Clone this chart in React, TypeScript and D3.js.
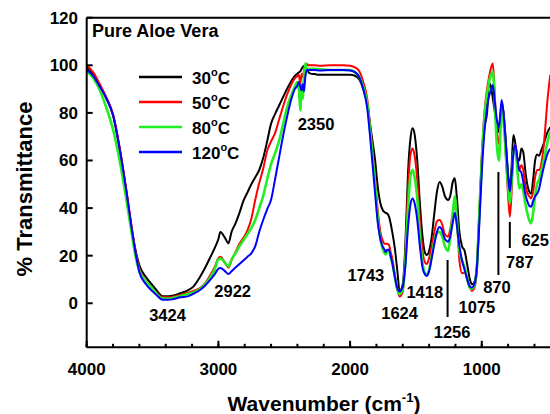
import React from "react";
import * as d3 from "d3";

// FTIR spectra of pure aloe vera dried at four temperatures
const wavenumbers = [
  4000, 3950, 3900, 3850, 3800, 3750, 3700, 3660, 3630, 3600, 3550, 3500, 3470, 3424,
  3380, 3340, 3290, 3240, 3190, 3140, 3100, 3060, 3030, 3000, 2985, 2950, 2924, 2900, 2870,
  2840, 2810, 2780, 2750, 2720, 2690, 2660, 2630, 2600, 2570, 2540, 2510, 2480, 2450, 2420,
  2400, 2390, 2378, 2368, 2360, 2350, 2340, 2328, 2315, 2300,
  2270, 2230, 2150, 2050, 2000, 1960, 1930, 1900, 1870, 1840, 1810, 1790, 1770, 1750, 1743,
  1730, 1720, 1705, 1690, 1680, 1660, 1640, 1624,
  1600, 1580, 1560, 1540, 1525, 1510, 1490, 1470, 1450, 1430, 1418,
  1400, 1380, 1360, 1340, 1320, 1300, 1280, 1256, 1240, 1220, 1205, 1190, 1170, 1150, 1130,
  1110, 1090, 1075,
  1060, 1040, 1020, 1000, 980, 960, 945, 930, 916, 900, 885, 870, 860, 849, 835, 815, 800,
  787, 775, 760, 745, 730, 715, 700, 685, 670, 655, 640, 625, 610, 595, 580, 565, 550, 530,
  500, 480,
];

const t30C = [
  99, 96, 91.5, 86, 79, 65, 47.5, 32, 22.5, 16, 11, 7.5, 5.5, 3,
  3, 3.3, 4.2, 5.2, 7, 11, 15, 19.5, 23, 27, 30, 27.5, 25.2, 30, 33.6,
  38, 43, 46.5, 50, 53, 56, 61, 68, 75.5, 79.5, 83, 86.5, 90, 93, 95.5,
  96.5, 97, 97.5, 98.5, 99.3, 99.8, 98, 98.5, 97, 96.5,
  96.3, 96, 96, 96, 96, 95.5, 94, 90, 84, 72, 60, 49, 42, 39, 38.5,
  38, 37.8, 36.5, 33, 30, 23, 13, 5,
  8, 25, 55, 70, 73.5, 71, 60, 42, 28, 21, 20.3,
  22, 28, 38, 47, 51, 49, 45, 43.4, 45, 51, 52.5, 45, 30, 24, 22,
  16, 10, 8,
  8.5, 14, 36, 60, 74, 80, 92.5, 91, 86, 80, 74, 72, 78, 84, 80, 66, 54,
  48, 56, 70.7, 67, 61, 60, 65, 63.5, 56, 50, 47, 46, 52, 60, 62.5, 62, 64, 67,
  72, 74,
];

const t50C = [
  100, 97, 92, 86.5, 79.5, 65.5, 48, 32.5, 22, 14.5, 9, 6, 4.5, 2.5,
  2.5, 2.8, 3.5, 4.2, 5.2, 6.4, 8.5, 12, 15, 19, 19.6, 17, 15, 18, 21.5,
  25, 27.5, 30.5, 35.5, 43.5, 50.5, 56.5, 64, 68, 71.5, 77, 82.5, 87.5, 91.5, 94.5,
  95.5, 96, 92.5, 96.5, 95, 98, 100, 100.5, 100, 100,
  100, 99.8, 100, 100, 99.8, 99, 97.5, 93, 86, 70, 52, 39, 30, 26, 25.2,
  25, 25, 24.5, 21, 19, 12, 5.5, 2.8,
  5, 20, 48, 63, 65, 62, 52, 35, 22, 17, 16.5,
  19, 24, 30, 34.5, 35, 33, 29, 28, 31, 38, 42, 36, 18, 12.6, 13,
  10, 6.5, 5.2,
  6, 12, 36, 62, 80, 90, 95, 99, 100.8, 86, 72, 67, 74, 84, 80, 60, 45,
  36.4, 45, 63, 66.5, 60, 56, 58, 56, 50, 46.5, 45, 44, 47, 53, 56, 56, 58, 66,
  86, 96,
];

const t80C = [
  97.5, 94.5, 89.5, 82, 73, 60, 44, 30, 20, 13.5, 9, 6, 4, 2,
  2, 2.3, 3, 3.8, 4.5, 6, 8, 11, 14, 18.5, 18.8, 17, 15.5, 18.5, 21,
  24, 26.5, 29, 31.6, 35, 40, 45, 52, 58.5, 63, 68, 75, 82, 87, 91,
  93, 91, 81, 92, 86, 96, 100.8, 98, 98.5, 98.5,
  98.5, 98.3, 98, 98, 98, 97, 95, 91, 84, 68, 50, 36, 27, 22.5, 21.5,
  20.5, 21.5, 22, 19, 17, 11, 5.5, 3.8,
  6, 18, 40, 54, 56, 53, 44, 28, 17, 12.5, 12,
  14, 20, 26, 29.5, 30, 28, 24, 22, 27, 38, 45, 36, 22, 18, 15,
  10, 6.5, 6,
  7, 13, 36, 60, 78, 88, 93, 96, 97.3, 82, 66, 60, 70, 82.6, 77, 60, 49,
  42, 50, 63, 65, 56, 48.3, 50, 47, 42, 38, 35, 33.6, 38, 45, 50, 52, 55, 60,
  68, 72,
];

const t120C = [
  98, 95.5, 91, 86, 79, 65, 47.5, 32, 21.5, 13, 8, 5, 3.5, 1.5,
  1.5, 1.8, 2.5, 2.8, 4, 5.6, 7.5, 10, 12, 14.5, 14.8, 13.5, 12.3, 13.5, 15,
  16.5, 18, 19.5, 21, 24, 30, 35, 39.5, 43.5, 52, 61, 70, 78, 85, 90,
  91.5, 93, 91, 89.5, 92, 89, 95, 98, 98, 98,
  98, 97.8, 98, 98, 97.8, 97, 95, 90, 82, 65, 46, 34, 27, 23.5, 23,
  21.5, 22.5, 22.5, 19.5, 17, 11, 6, 4.9,
  7, 16, 32, 42, 44, 42, 35, 24, 15, 12, 11.5,
  13.5, 19, 25, 30, 32, 30.5, 27, 25.9, 28, 34, 38, 33, 24, 18, 14,
  10, 7, 6.6,
  7.5, 13, 32, 55, 72, 82, 87, 89.5, 91.7, 84, 77, 74, 79, 85.4, 80, 65, 53,
  47, 53, 63, 66.5, 61, 56, 55, 51, 46, 43, 41, 40.6, 43, 45, 46, 48, 52, 57,
  63, 65,
];

const temperatures = ["30", "50", "80", "120"];
const spectra = [t30C, t50C, t80C, t120C];
const colors = ["#000000", "#ff0000", "#22ee22", "#0000ff"];
const widths = [2, 2, 2.6, 2];

const xMajorTicks = [4000, 3000, 2000, 1000];
const xMinorTicks = d3.range(4000, 400, -200);
const yTicks = [0, 20, 40, 60, 80, 100, 120];

// Band assignments and where their labels sit
const peaks = ["3424", "2922", "2350", "1743", "1624", "1418", "1256", "1075", "870", "787", "625"];
const peakLabelLayout: Record<string, { dx: number; y: number; line?: [number, number] }> = {
  "3424": { dx: 5, y: 321 },
  "2922": { dx: 4, y: 297 },
  "2350": { dx: 12, y: 130 },
  "1743": { dx: -18, y: 281 },
  "1624": { dx: 0, y: 319 },
  "1418": { dx: -2, y: 298 },
  "1256": { dx: 4, y: 338, line: [260, 317] },
  "1075": { dx: 5, y: 313 },
  "870": { dx: -2, y: 293, line: [172, 275] },
  "787": { dx: 10, y: 268, line: [222, 248] },
  "625": { dx: 4, y: 246 },
};

const W = 550;
const H = 414;
const FONT = "'Liberation Sans', Arial, Helvetica, sans-serif";

export default function App() {
  const x = d3.scaleLinear().domain([4000, 400]).range([86.7, 560.8]);
  const y = d3.scaleLinear().domain([-18.5, 120]).range([347.3, 17.7]);
  const left = x(4000);
  const bottom = y(-18.5);
  const top = y(120);

  const line = d3
    .line<number>()
    .x((_, i) => x(wavenumbers[i]))
    .y((d) => y(d))
    .curve(d3.curveMonotoneX);

  return (
    <svg
      width={W}
      height={H}
      style={{ position: "absolute", left: 0, top: 0, background: "#fff" }}
      fontFamily={FONT}
      fontWeight="bold"
    >
      <defs>
        <clipPath id="plot">
          <rect x={left} y={top} width={W - left} height={bottom - top} />
        </clipPath>
      </defs>

      {/* spectra */}
      <g clipPath="url(#plot)">
        {spectra.map((s, i) => (
          <path
            key={i}
            d={line(s) ?? ""}
            fill="none"
            stroke={colors[i]}
            strokeWidth={widths[i]}
            strokeLinejoin="round"
          />
        ))}
      </g>

      {/* frame */}
      <line x1={left} x2={W} y1={top} y2={top} stroke="#000" strokeWidth={2} />
      <line x1={left} x2={W} y1={bottom} y2={bottom} stroke="#000" strokeWidth={2} />
      <line x1={left} x2={left} y1={top} y2={bottom} stroke="#000" strokeWidth={2} />

      {/* y axis */}
      {yTicks.map((t) => (
        <g key={t}>
          <line x1={left} x2={left + 6} y1={y(t)} y2={y(t)} stroke="#000" strokeWidth={2} />
          <text x={78} y={y(t) + 6} textAnchor="end" fontSize={17}>
            {t}
          </text>
        </g>
      ))}

      {/* x axis */}
      {xMinorTicks.map((t) => (
        <line key={t} x1={x(t)} x2={x(t)} y1={bottom} y2={bottom - 3.5} stroke="#000" strokeWidth={2} />
      ))}
      {xMajorTicks.map((t) => (
        <g key={t}>
          <line x1={x(t)} x2={x(t)} y1={bottom} y2={bottom - 6.5} stroke="#000" strokeWidth={2} />
          <text x={x(t)} y={375} textAnchor="middle" fontSize={17}>
            {t}
          </text>
        </g>
      ))}

      {/* axis titles */}
      <text x={324} y={411} textAnchor="middle" fontSize={21}>
        Wavenumber (cm
        <tspan fontSize={13} dy={-9}>
          -1
        </tspan>
        <tspan dy={9}>)</tspan>
      </text>
      <text transform="translate(32,189) rotate(-90)" textAnchor="middle" fontSize={22}>
        % Transmittance
      </text>

      {/* sample name */}
      <text x={92} y={37} fontSize={18}>
        Pure Aloe Vera
      </text>

      {/* legend */}
      {temperatures.map((t, i) => {
        const ly = 77 + i * 25;
        return (
          <g key={t}>
            <line x1={139} x2={182} y1={ly} y2={ly} stroke={colors[i]} strokeWidth={2.6} />
            <text x={192} y={ly + 6.5} fontSize={17}>
              {t}
              <tspan fontSize={11} dy={-8}>
                o
              </tspan>
              <tspan dy={8}>C</tspan>
            </text>
          </g>
        );
      })}

      {/* band labels */}
      {peaks.map((p) => {
        const wn = +p;
        const lay = peakLabelLayout[p];
        const px = x(wn);
        return (
          <g key={p}>
            {lay.line && (
              <line
                x1={px + (p === "787" ? 0 : -0.5)}
                x2={px + (p === "787" ? 0 : -0.5)}
                y1={lay.line[0]}
                y2={lay.line[1]}
                stroke="#000"
                strokeWidth={2}
              />
            )}
            <text x={px + lay.dx} y={lay.y} textAnchor="middle" fontSize={16.5}>
              {p}
            </text>
          </g>
        );
      })}
    </svg>
  );
}
